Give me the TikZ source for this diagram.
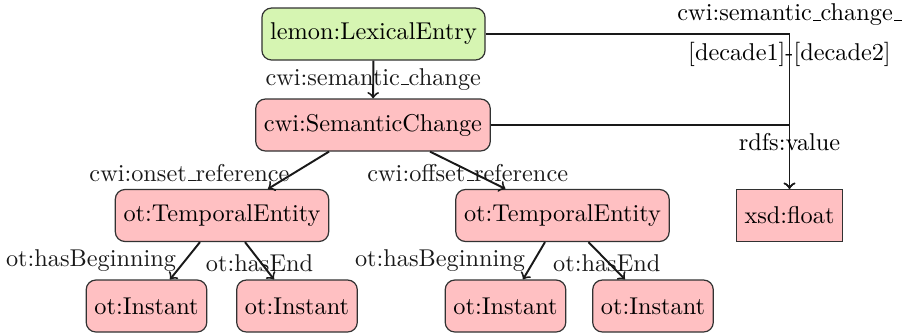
\documentclass[tikz,border=0pt]{standalone}
\usetikzlibrary{calc}
\definecolor{gfill}{RGB}{214,245,178}
\definecolor{pfill}{RGB}{255,192,194}
\definecolor{bline}{RGB}{50,50,50}
\newcommand{\uscore}{\leavevmode\kern.06em\vbox{\hrule width.3em}}
\begin{document}
\begin{tikzpicture}[x=0.4115pt,y=-0.4115pt,
  cls/.style={draw=bline,line width=0.5pt,rounded corners=4pt,inner xsep=3.4pt,minimum height=21.4pt,font=\normalsize},
  lit/.style={draw=bline,line width=0.5pt,inner xsep=3.4pt,minimum height=21.4pt,fill=pfill},
  lbl/.style={inner sep=3.3pt},
  conn/.style={->,thick,black!90}]
\useasboundingbox (0,0) rectangle (907,334);
\node[cls,fill=gfill] (le) at (373.5,34) {lemon:LexicalEntry};
\node[cls,fill=pfill] (sc) at (373,125) {cwi:SemanticChange};
\node[cls,fill=pfill] (te1) at (222,215.5) {ot:TemporalEntity};
\node[cls,fill=pfill] (te2) at (562.5,215.5) {ot:TemporalEntity};
\node[lit] (xf) at (789.5,215.5) {xsd:float};
\node[cls,fill=pfill] (i1) at (146.5,306) {ot:Instant};
\node[cls,fill=pfill] (i2) at (297,306) {ot:Instant};
\node[cls,fill=pfill] (i3) at (505.5,306) {ot:Instant};
\node[cls,fill=pfill] (i4) at (653,306) {ot:Instant};
\coordinate (c1) at (xf.north |- le.east);
\coordinate (c2) at (xf.north |- sc.east);
\draw[conn] (le) -- node[lbl] (l1) {cwi:semantic\uscore change} (sc);
\draw[conn] (le.east) -- (c1) -- (xf.north);
\node[lbl,anchor=south] (l2) at (c1) {cwi:semantic\uscore change\uscore};
\node[lbl,anchor=north] (l3) at (c1) {[decade1]-[decade2]};
\draw[conn] (sc.east) -- (c2) -- (xf.north);
\node[lbl,anchor=north] (l4) at ($(c2)+(0,0)$) {rdfs:value};
\draw[conn] ($(sc.south)+(-44,0)$) -- node[lbl,anchor=east,yshift=-1pt] (l5) {cwi:onset\uscore reference} ($(te1.north)+(46,0)$);
\draw[conn] ($(sc.south)+(57,0)$) -- node[lbl,yshift=-1pt] (l6) {cwi:offset\uscore reference} ($(te2.north)+(-57,0)$);
\draw[conn] ($(te1.south)+(-22,0)$) -- node[lbl,anchor=east] (l7) {ot:hasBeginning} ($(i1.north)+(23.5,0)$);
\draw[conn] ($(te1.south)+(23,0)$) -- node[lbl,yshift=-1pt] (l8) {ot:hasEnd} ($(i2.north)+(-23,0)$);
\draw[conn] ($(te2.south)+(-17.5,0)$) -- node[lbl,anchor=east] (l9) {ot:hasBeginning} ($(i3.north)+(17.5,0)$);
\draw[conn] ($(te2.south)+(26,0)$) -- node[lbl,yshift=-1pt] (l10) {ot:hasEnd} ($(i4.north)+(-28,0)$);
\end{tikzpicture}
\end{document}
